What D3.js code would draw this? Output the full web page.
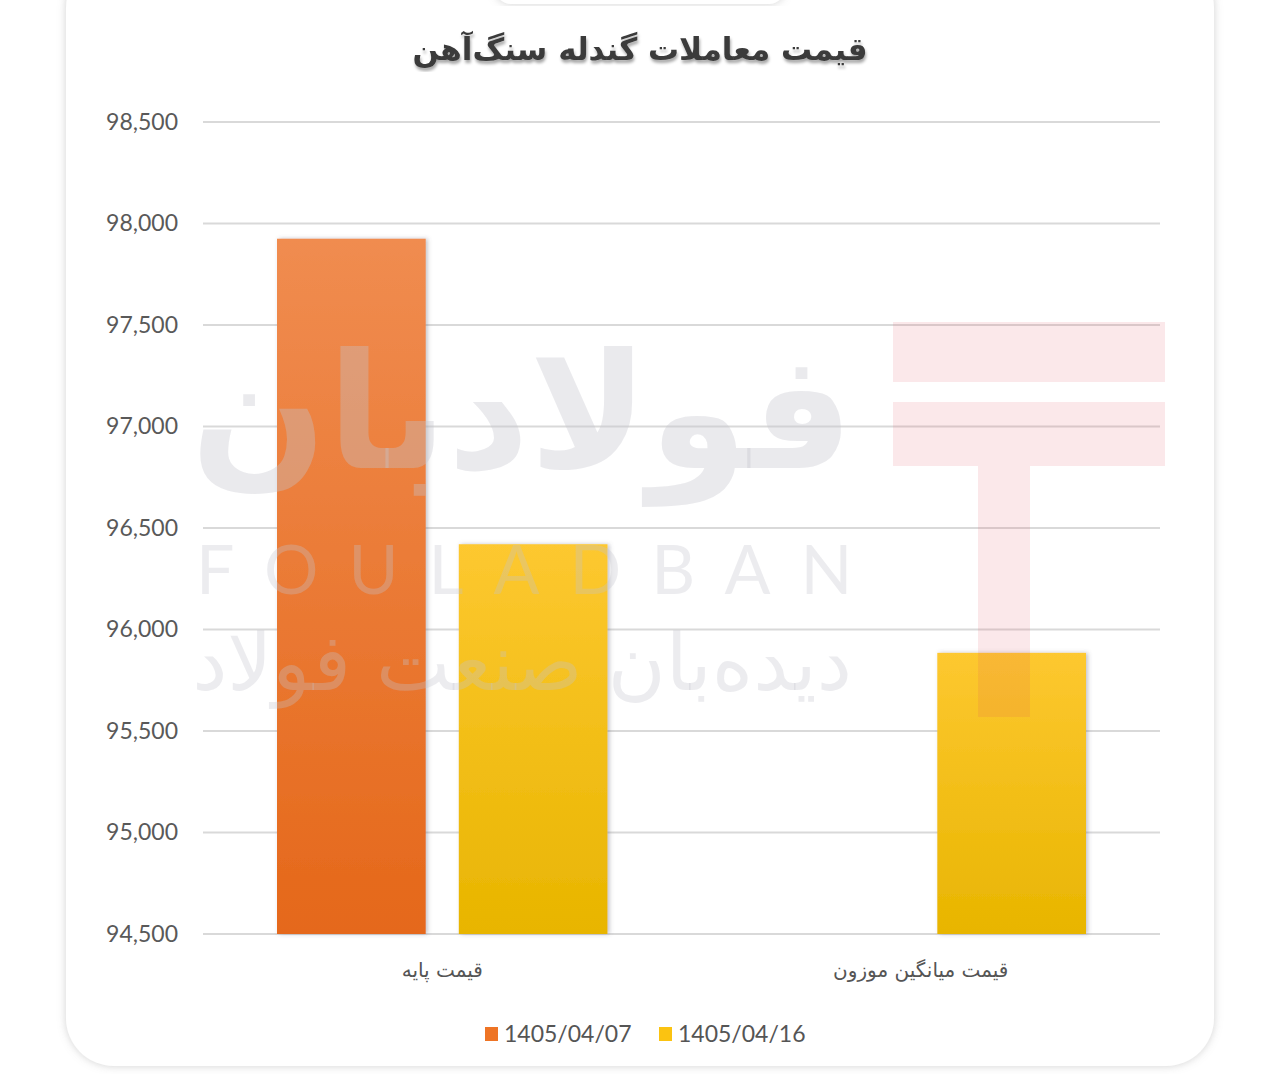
<!DOCTYPE html>
<html><head><meta charset="utf-8">
<script src="https://cdn.jsdelivr.net/npm/d3@7"></script>
<style>html,body{margin:0;padding:0;background:#fff;}</style>
</head><body>
<svg id="c" width="1280" height="1074"></svg>
<script>
const title = "قیمت معاملات گندله سنگ‌آهن";
const categories = ["قیمت پایه", "قیمت میانگین موزون"];
const seriesNames = ["1405/04/07", "1405/04/16"];
const series0407 = [97925, null];
const series0416 = [96420, 95885];
const yTicks = [94500, 95000, 95500, 96000, 96500, 97000, 97500, 98000, 98500];
const colorsTop = ["#f08c50", "#fdc830"];
const colorsBottom = ["#e5681a", "#e8b500"];
const legendColors = ["#ee7425", "#fbc311"];

const svg = d3.select("#c");
const defs = svg.append("defs");
const sh = defs.append("filter").attr("id","cardShadow").attr("x","-5%").attr("y","-5%").attr("width","110%").attr("height","110%");
sh.append("feDropShadow").attr("dx",0).attr("dy",0).attr("stdDeviation",4).attr("flood-color","#999").attr("flood-opacity",0.45);
const bs = defs.append("filter").attr("id","barShadow").attr("x","-10%").attr("y","-5%").attr("width","120%").attr("height","110%");
bs.append("feDropShadow").attr("dx",2).attr("dy",0).attr("stdDeviation",2).attr("flood-color","#556").attr("flood-opacity",0.35);
const ts = defs.append("filter").attr("id","titleShadow");
ts.append("feDropShadow").attr("dx",1).attr("dy",3).attr("stdDeviation",1.5).attr("flood-color","#000").attr("flood-opacity",0.35);
[0,1].forEach(i=>{
  const g = defs.append("linearGradient").attr("id","grad"+i).attr("x1",0).attr("y1",0).attr("x2",0).attr("y2",1);
  g.append("stop").attr("offset","0%").attr("stop-color",colorsTop[i]);
  g.append("stop").attr("offset","100%").attr("stop-color",colorsBottom[i]);
});

// card
svg.append("rect").attr("x",66).attr("y",-40).attr("width",1148).attr("height",1106).attr("rx",48)
  .attr("fill","#fff").attr("filter","url(#cardShadow)");
// top tab
svg.append("rect").attr("x",495).attr("y",-30).attr("width",290).attr("height",34).attr("rx",16)
  .attr("fill","#fff").attr("filter","url(#cardShadow)");

const x0 = d3.scaleBand().domain(categories).range([203,1160]).paddingInner(0).paddingOuter(0);
const x1 = d3.scaleBand().domain(seriesNames).range([74, x0.bandwidth()-74]).paddingInner(0.182);
const y = d3.scaleLinear().domain([94500, 98500]).range([934,122]);

// grid
svg.append("g").selectAll("line").data(yTicks).join("line")
  .attr("x1",203).attr("x2",1160).attr("y1",d=>y(d)).attr("y2",d=>y(d))
  .attr("stroke","#d9d9d9").attr("stroke-width",2);

// y axis
const yAxis = d3.axisLeft(y).tickValues(yTicks).tickFormat(d3.format(",")).tickSize(0).tickPadding(0);
const ya = svg.append("g").attr("transform","translate(178,0)").call(yAxis);
ya.select(".domain").remove();
ya.selectAll("text").attr("font-family","Lato, sans-serif").attr("font-size",23).attr("fill","#595959");

// bars
const data = categories.map((c,i)=>({cat:c, vals:[series0407[i], series0416[i]]}));
const groups = svg.append("g").selectAll("g").data(data).join("g")
  .attr("transform",d=>`translate(${x0(d.cat)},0)`);
groups.selectAll("rect").data(d=>d.vals.map((v,j)=>({v, s:seriesNames[j], j})).filter(d=>d.v!=null))
  .join("rect")
  .attr("x",d=>x1(d.s)).attr("width",x1.bandwidth())
  .attr("y",d=>y(d.v)).attr("height",d=>y(94500)-y(d.v))
  .attr("fill",d=>`url(#grad${d.j})`).attr("filter","url(#barShadow)");

// watermark (semi-transparent overlay, as in the reference)
const wm = svg.append("g").attr("pointer-events","none");
const pink = {fill:"#e05060", op:0.13};
wm.append("rect").attr("x",893).attr("y",322).attr("width",272).attr("height",60).attr("fill",pink.fill).attr("fill-opacity",pink.op);
wm.append("rect").attr("x",893).attr("y",402).attr("width",272).attr("height",64).attr("fill",pink.fill).attr("fill-opacity",pink.op);
wm.append("rect").attr("x",978).attr("y",466).attr("width",52).attr("height",251).attr("fill",pink.fill).attr("fill-opacity",pink.op);
wm.append("text").attr("x",522).attr("y",468).attr("text-anchor","middle").attr("font-family","DejaVu Sans").attr("font-weight","bold")
  .attr("font-size",160).attr("fill","#c4c4cc").attr("fill-opacity",0.36).attr("direction","rtl").text("فولادبان");
wm.append("text").attr("x",196).attr("y",594).attr("text-anchor","start").attr("font-family","Lato, sans-serif")
  .attr("font-size",68).attr("letter-spacing",30).attr("fill","#c4c4cc").attr("fill-opacity",0.32).text("FOULADBAN");
wm.append("text").attr("x",522).attr("y",690).attr("text-anchor","middle").attr("font-family","DejaVu Sans")
  .attr("font-size",79).attr("fill","#c4c4cc").attr("fill-opacity",0.32).attr("direction","rtl").text("دیده‌بان صنعت فولاد");

// x labels
const xAxis = d3.axisBottom(x0).tickSize(0).tickPadding(0);
const xa = svg.append("g").attr("transform","translate(0,977)").call(xAxis);
xa.select(".domain").remove();
xa.selectAll("text").attr("font-family","DejaVu Sans").attr("font-size",20).attr("fill","#555").attr("dy",0);

// title
svg.append("text").attr("x",640).attr("y",60).attr("text-anchor","middle")
  .attr("font-family","DejaVu Sans").attr("font-weight","bold").attr("font-size",31).attr("fill","#3a3a3a")
  .attr("filter","url(#titleShadow)").attr("direction","rtl").text(title);

// legend
const legX = [485, 659];
const lg = svg.append("g").selectAll("g").data(seriesNames).join("g")
  .attr("transform",(d,i)=>`translate(${legX[i]},1034)`);
lg.append("rect").attr("x",0).attr("y",-7).attr("width",13).attr("height",14).attr("fill",(d,i)=>legendColors[i]);
lg.append("text").attr("x",19).attr("y",0).attr("dy","0.35em").attr("font-family","Lato, sans-serif")
  .attr("font-size",23).attr("fill","#555").text(d=>d);
</script>
</body></html>
